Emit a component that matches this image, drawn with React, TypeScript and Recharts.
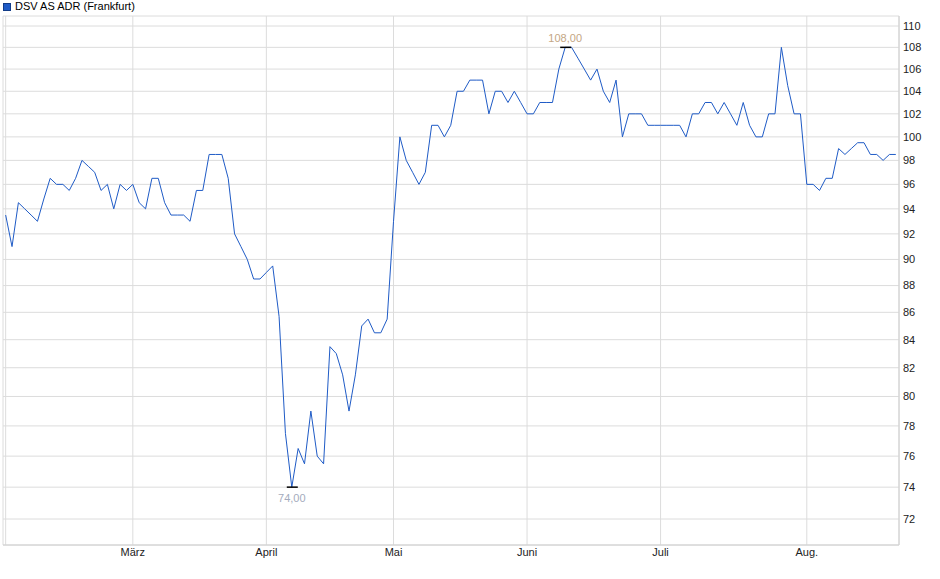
import React from "react";
import {
  LineChart, Line, XAxis, YAxis, CartesianGrid, ReferenceDot
} from "recharts";

// daily closes (Frankfurt trading days), one array per month
const feb = [93.5, 91, 94.5, 94, 93.5, 93, 94.8, 96.5, 96, 96, 95.5, 96.5, 98, 97.5, 97, 95.5, 96, 94, 96, 95.5];
const mar = [96, 94.5, 94, 96.5, 96.5, 94.5, 93.5, 93.5, 93.5, 93, 95.5, 95.5, 98.5, 98.5, 98.5, 96.5, 92, 91, 90, 88.5, 88.5];
const apr = [89, 89.5, 85.7, 77.5, 74, 76.5, 75.5, 79, 76, 75.5, 83.5, 83, 81.5, 79, 81.5, 85, 85.5, 84.5, 84.5, 85.5];
const may = [93, 100, 98, 97, 96, 97, 101, 101, 100, 101, 104, 104, 105, 105, 105, 102, 104, 104, 103, 104, 103];
const jun = [102, 102, 103, 103, 103, 106, 108, 108, 107, 106, 105, 106, 104, 103, 105, 100, 102, 102, 102, 101, 101];
const jul = [101, 101, 101, 101, 100, 102, 102, 103, 103, 102, 103, 102, 101, 103, 101, 100, 100, 102, 102, 108, 104.5, 102, 102];
const aug = [96, 96, 95.5, 96.5, 96.5, 99, 98.5, 99, 99.5, 99.5, 98.5, 98.5, 98, 98.5, 98.5];

const months = [feb, mar, apr, may, jun, jul, aug];
const monthLabels = ["", "März", "April", "Mai", "Juni", "Juli", "Aug."];
const yTicks = [72, 74, 76, 78, 80, 82, 84, 86, 88, 90, 92, 94, 96, 98, 100, 102, 104, 106, 108, 110];

const values = months.flat();
const data = values.map((close, i) => ({ i, close }));

// first trading day of every month -> tick position
const monthStarts: number[] = [];
let acc = 0;
months.forEach((m) => {
  monthStarts.push(acc);
  acc += m.length;
});

const maxVal = Math.max(...values);
const minVal = Math.min(...values);
const maxIdx = values.indexOf(maxVal);
const minIdx = values.indexOf(minVal);

const fmt = (v: number) => v.toFixed(2).replace(".", ",");
const FONT = "'Liberation Sans', Arial, sans-serif";

function Marker(props: any) {
  const { cx, cy, above, text, color } = props;
  return (
    <g>
      <line x1={cx - 5} x2={cx + 6} y1={cy} y2={cy} stroke="#000" strokeWidth={1.5} />
      <text
        x={cx}
        y={above ? cy - 5 : cy + 15}
        textAnchor="middle"
        fontSize={11}
        fontFamily={FONT}
        fill={color}
      >
        {text}
      </text>
    </g>
  );
}

export default function App() {
  return (
    <div style={{ position: "absolute", left: 0, top: 0, width: 940, height: 579, fontFamily: FONT }}>
      <LineChart width={940} height={579} data={data} margin={{ top: 16, right: 0, bottom: 0, left: 3 }}>
        <CartesianGrid stroke="#dcdcdc" strokeWidth={1} />
        <XAxis
          dataKey="i"
          type="number"
          domain={[-0.42, 140.5]}
          allowDataOverflow
          ticks={monthStarts}
          tickFormatter={(v: number) => monthLabels[monthStarts.indexOf(v)] ?? ""}
          interval={0}
          height={34}
          tickLine={false}
          tickSize={0}
          tickMargin={3}
          axisLine={{ stroke: "#d0d0d0" }}
          tick={{ fontSize: 11, fill: "#222", fontFamily: FONT }}
        />
        <XAxis xAxisId="top" orientation="top" dataKey="i" type="number" domain={[-0.42, 140.5]} height={0} tick={false} tickLine={false} axisLine={{ stroke: "#d0d0d0" }} />
        <YAxis
          orientation="right"
          scale="log"
          type="number"
          domain={[70.41, 110.95]}
          allowDataOverflow
          ticks={yTicks}
          interval={0}
          width={41}
          tickLine={false}
          tickSize={4}
          tickMargin={0}
          axisLine={{ stroke: "#d0d0d0" }}
          tick={{ fontSize: 11, fill: "#222", fontFamily: FONT, textAnchor: "start" }}
        />
        <YAxis yAxisId="left" orientation="left" width={0} tick={false} tickLine={false} axisLine={{ stroke: "#d0d0d0" }} />
        <Line
          type="linear"
          dataKey="close"
          stroke="#1f5bc6"
          strokeWidth={1}
          dot={false}
          isAnimationActive={false}
        />
        <ReferenceDot
          x={maxIdx}
          y={maxVal}
          shape={(p: any) => <Marker {...p} above text={fmt(maxVal)} color="#c4a684" />}
        />
        <ReferenceDot
          x={minIdx}
          y={minVal}
          shape={(p: any) => <Marker {...p} text={fmt(minVal)} color="#a4abbd" />}
        />
      </LineChart>
      <div
        style={{
          position: "absolute",
          left: 3,
          top: 0,
          zIndex: 5,
          height: 13,
          lineHeight: "13px",
          display: "flex",
          alignItems: "center",
          fontSize: 11,
          color: "#000",
          whiteSpace: "nowrap",
        }}
      >
        <span style={{ display: "inline-block", width: 6, height: 6, background: "#1f5bc6", border: "1px solid #123c88", marginRight: 4 }} />
        DSV AS ADR (Frankfurt)
      </div>
    </div>
  );
}
